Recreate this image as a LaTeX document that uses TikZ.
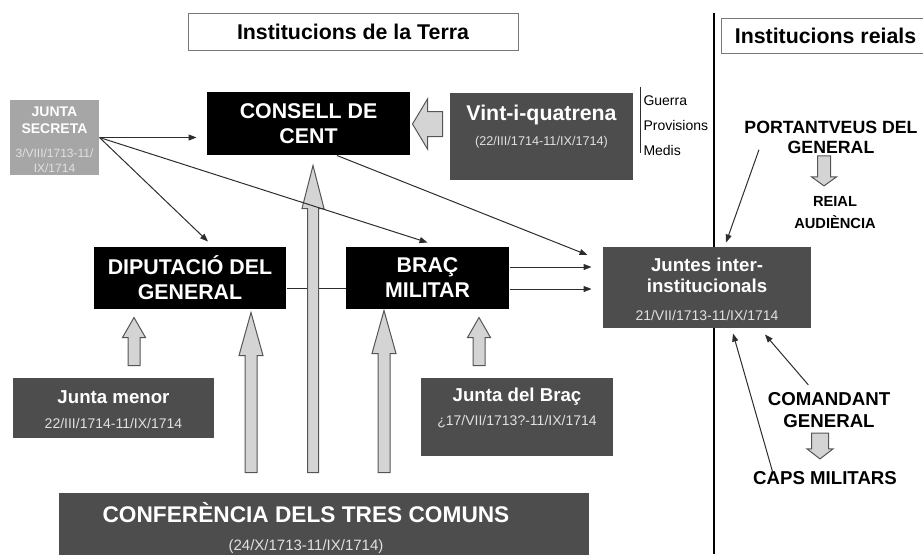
\documentclass[tikz,border=0pt]{standalone}
\usepackage{fontspec}
\setmainfont{Liberation Sans}
\usetikzlibrary{arrows.meta,calc}

\definecolor{boxgray}{RGB}{77,77,77}
\definecolor{secgray}{RGB}{166,166,166}
\definecolor{arrfill}{RGB}{212,212,212}
\definecolor{arredge}{RGB}{85,85,85}
\definecolor{datewhite}{RGB}{225,225,225}
\definecolor{linegray}{RGB}{45,45,45}
\definecolor{framegray}{RGB}{120,120,120}

\tikzset{every picture/.style={line width=0.75pt}}
\tikzset{
	boxsize/.style 2 args={minimum width=#1*0.75pt, minimum height=#2*0.75pt},
	blackbox/.style={fill=black, text=white, inner sep=0pt, align=center, font=\fontsize{16}{18.75}\selectfont\bfseries},
	darkbox/.style={fill=boxgray, inner sep=0pt},
	titlebox/.style={draw=framegray, fill=white, inner sep=0pt, font=\fontsize{16}{19}\selectfont\bfseries},
	boxhead/.style={text=white, inner sep=0pt, align=center, font=\fontsize{14}{15.75}\selectfont\bfseries},
	boxdate/.style={text=datewhite, inner sep=0pt, align=center, font=\fontsize{10.5}{12}\selectfont},
	freelabel/.style={inner sep=0pt, align=center, font=\fontsize{14}{15}\selectfont\bfseries},
	conn/.style={draw=linegray, -{Triangle[length=6pt,width=4.5pt]}},
	barrow/.style={draw=arredge, fill=arrfill, line width=0.75pt},
}

% block arrows: tip, tail, head length, head half width, shaft half width
\newcommand{\blockv}[5]{%
	\draw[barrow] (#1) -- ($(#1)+(#4,#3)$) -- ($(#1)+(#5,#3)$) -- ($(#1 |- #2)+(#5,0)$) -- ($(#1 |- #2)+(-#5,0)$) -- ($(#1)+(-#5,#3)$) -- ($(#1)+(-#4,#3)$) -- cycle;}
\newcommand{\blockh}[5]{%
	\draw[barrow] (#1) -- ($(#1)+(#3,#4)$) -- ($(#1)+(#3,#5)$) -- ($(#1 -| #2)+(0,#5)$) -- ($(#1 -| #2)+(0,-#5)$) -- ($(#1)+(#3,-#5)$) -- ($(#1)+(#3,-#4)$) -- cycle;}

\begin{document}
\begin{tikzpicture}[x=0.75pt,y=0.75pt,yscale=-1,xscale=1]
	\useasboundingbox (0,0) rectangle (923,554);
	\clip (0,0) rectangle (923,554);

	% divider
	\draw[line width=1.5pt] (714,13) -- (714,554);

	% titles
	\node[titlebox, boxsize={330}{37}] (terra) at (353,31.5) {Institucions de la Terra};
	\node[titlebox, boxsize={209}{35}] (reials) at (825.5,35.5) {Institucions reials};

	% Junta secreta
	\node[fill=secgray, inner sep=0pt, boxsize={89}{75}] (secreta) at (54.5,137.5) {};
	\node[text=white, inner sep=0pt, align=center, font=\fontsize{10.5}{12.75}\selectfont\bfseries] (secretaT) at (54.5,120.5) {JUNTA\\SECRETA};
	\node[boxdate, font=\fontsize{9}{11.25}\selectfont] (secretaD) at (54.5,160.5) {3/VIII/1713-11/\\IX/1714};

	% Consell de Cent and Vint-i-quatrena
	\node[blackbox, boxsize={203}{63}] (consell) at (308.5,123.5) {CONSELL DE\\CENT};
	\node[darkbox, boxsize={183}{87}] (vint) at (541.5,136.5) {};
	\node[boxhead, font=\fontsize{16}{19}\selectfont\bfseries] (vintT) at (541.5,115) {Vint-i-quatrena};
	\node[boxdate, font=\fontsize{9.5}{11}\selectfont] (vintD) at (541.5,142) {(22/III/1714-11/IX/1714)};
	\node[anchor=west, inner sep=0pt, align=left, font=\fontsize{10.5}{18.75}\selectfont] (comis) at (643,126) {Guerra\\Provisions\\Medis};
	\draw[linegray] ($(comis.north west)+(-3,-9)$) -- ($(comis.south west)+(-3,-3)$);

	% Diputacio and Brac
	\node[blackbox, boxsize={192}{62}] (dip) at (190,278) {DIPUTACIÓ DEL\\GENERAL};
	\node[blackbox, boxsize={163}{62}] (brac) at (427.5,278) {BRAÇ\\MILITAR};
	\draw[linegray] ($(dip.east)+(0,10)$) -- ($(brac.west)+(0,10)$);

	% Juntes
	\node[darkbox, boxsize={208}{81}] (juntes) at (707,287.5) {};
	\node[boxhead] (juntesT) at (707,275.5) {Juntes inter-\\institucionals};
	\node[boxdate] (juntesD) at (707,315) {21/VII/1713-11/IX/1714};

	% lower boxes
	\node[darkbox, boxsize={201}{60}] (menor) at (113.5,408) {};
	\node[boxhead] (menorT) at (113.5,397) {Junta menor};
	\node[boxdate] (menorD) at (113.5,423) {22/III/1714-11/IX/1714};
	\node[darkbox, boxsize={192}{78}] (jbrac) at (517,417) {};
	\node[boxhead] (jbracT) at (517,397) {Junta del Braç};
	\node[boxdate] (jbracD) at (517,422) {¿17/VII/1713?-11/IX/1714};
	\node[darkbox, boxsize={530}{67}] (conf) at (324,526.5) {};
	\node[boxhead, font=\fontsize{17}{20}\selectfont\bfseries] (confT) at (306,513) {CONFERÈNCIA DELS TRES COMUNS};
	\node[boxdate, font=\fontsize{11.25}{13}\selectfont] (confD) at (306,547) {(24/X/1713-11/IX/1714)};

	% royal institutions
	\node[freelabel, font=\fontsize{13.3}{15}\selectfont\bfseries] (port) at (831,137) {PORTANTVEUS DEL\\GENERAL};
	\node[freelabel, font=\fontsize{11}{16.5}\selectfont\bfseries] (reial) at (835,213) {REIAL\\AUDIÈNCIA};
	\node[freelabel, font=\fontsize{14}{16.5}\selectfont\bfseries] (coman) at (829,410) {COMANDANT\\GENERAL};
	\node[freelabel] (caps) at (825,478) {CAPS MILITARS};

	% block arrows
	\coordinate (tipC) at ($(consell.east)+(2,0.5)$);
	\coordinate (tailC) at ($(vint.west)+(-7,0)$);
	\blockh{tipC}{tailC}{15}{25}{12.5}
	\coordinate (tailT) at ($(conf.north)+(0,-20)$);
	\coordinate (tipT) at ($(consell.south)+(4.5,10)$);
	\blockv{tipT}{tailT}{43}{11}{5.5}
	\coordinate (tipD) at ($(dip.south)+(61,3)$);
	\blockv{tipD}{tailT}{43}{12}{6}
	\coordinate (tipB) at ($(brac.south)+(-43.5,1)$);
	\blockv{tipB}{tailT}{43}{12}{6}
	\coordinate (tipM) at ($(dip.south)+(-56,8)$);
	\coordinate (tailM) at ($(menor.north)+(0,-12)$);
	\blockv{tipM}{tailM}{20}{11.5}{6}
	\coordinate (tipJ) at ($(brac.south)+(51.5,8)$);
	\coordinate (tailJ) at ($(jbrac.north)+(0,-12)$);
	\blockv{tipJ}{tailJ}{20}{11.5}{6}
	\coordinate (tailR) at ($(port.south)+(-7,2)$);
	\coordinate (tipR) at ($(reial.north)+(-11,-10.5)$);
	\blockv{tipR}{tailR}{-9}{12.5}{6.5}
	\coordinate (tailK) at ($(coman.south)+(-9,5)$);
	\coordinate (tipK) at ($(caps.north)+(-5,-12)$);
	\blockv{tipK}{tailK}{-10}{13}{8.5}

	% connectors
	\draw[conn] (secreta.east) -- ($(consell.west)+(-10,14)$);
	\draw[conn] (secreta.east) -- ($(dip.north)+(18,-5)$);
	\draw[conn] (secreta.east) -- ($(brac.north)+(0,-4)$);
	\draw[conn] ($(consell.south)+(28.5,0)$) -- ($(juntes.west)+(-15,-32.5)$);
	\draw[conn] ($(brac.east)+(0,-11)$) -- ($(juntes.west)+(-11,-20.5)$);
	\draw[conn] ($(brac.east)+(0,11)$) -- ($(juntes.west)+(-11,1.5)$);
	\draw[conn] ($(port.south west)+(15,-4)$) -- ($(juntes.north)+(19,-4)$);
	\draw[conn] ($(coman.north west)+(41,-7)$) -- ($(juntes.south)+(58,6)$);
	\draw[conn] ($(caps.north west)+(20,1)$) -- ($(juntes.south)+(26,5)$);

\end{tikzpicture}
\end{document}
